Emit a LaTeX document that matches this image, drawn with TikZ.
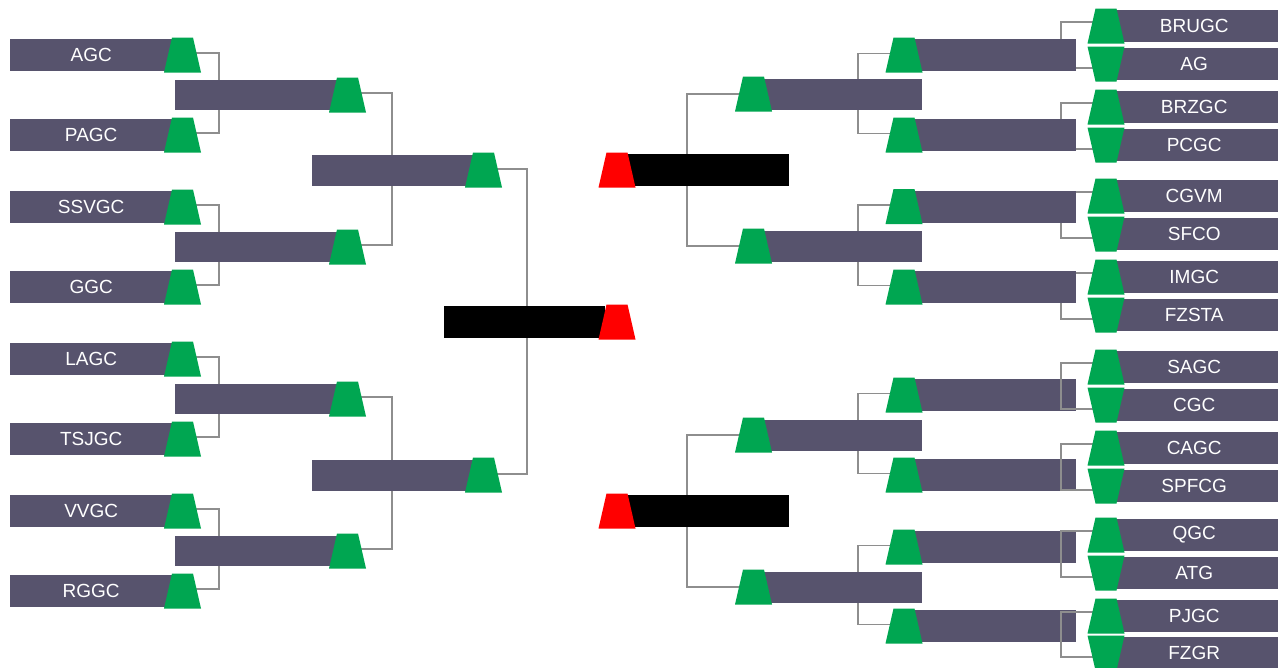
\documentclass[tikz,border=0pt]{standalone}
\usepackage{fontspec}
\setmainfont{Liberation Sans}
\definecolor{barc}{HTML}{57536D}
\definecolor{grn}{HTML}{00A651}
\definecolor{lnc}{HTML}{8E8E8E}
\pgfdeclarelayer{bg}
\pgfdeclarelayer{mid}
\pgfdeclarelayer{fg}
\pgfsetlayers{bg,main,mid,fg}
\begin{document}
\begin{tikzpicture}[x=1pt,y=-1pt,
  bar/.style={rectangle, fill=barc, draw=none, inner sep=0pt, minimum height=32pt, anchor=west, text=white, font=\fontsize{19}{19}\selectfont},
  blk/.style={bar, fill=black},
  trapfill/.store in=\trapcol, trapfill=grn,
  trap/.style={rectangle, draw=none, inner sep=0pt, minimum width=37pt, minimum height=35pt,
    path picture={\fill[\trapcol] (path picture bounding box.south west) -- (path picture bounding box.south east)
      -- ([xshift=-8pt]path picture bounding box.north east) -- ([xshift=8pt]path picture bounding box.north west) -- cycle;}},
  trapdn/.style={rectangle, draw=none, inner sep=0pt, minimum width=37pt, minimum height=35pt,
    path picture={\fill[grn] (path picture bounding box.north west) -- (path picture bounding box.north east)
      -- ([xshift=-8pt]path picture bounding box.south east) -- ([xshift=8pt]path picture bounding box.south west) -- cycle;}},
  redtrap/.style={trapfill=red, trap},
  conn/.style={draw=lnc, line width=1.8pt}]
\clip (0,0) rectangle (1281,667);
\begin{pgfonlayer}{bg}
\fill[white] (0,0) rectangle (1281,667);
\end{pgfonlayer}

% ---------------- LEFT ----------------
\foreach \i/\t/\y in {1/AGC/55,2/PAGC/135,3/SSVGC/207,4/GGC/287,5/LAGC/359,6/TSJGC/439,7/VVGC/511,8/RGGC/591}{
  \node[bar, minimum width=162pt] (lb\i) at (10,\y) {\t};
  \begin{pgfonlayer}{fg}\node[trap] (lt\i) at (182.5,\y) {};\end{pgfonlayer}
}
\foreach \i/\y in {1/95,2/247,3/399,4/551}{
  \node[bar, minimum width=163pt, minimum height=30pt] (lm\i) at (175,\y) {};
  \begin{pgfonlayer}{fg}\node[trap] (lmt\i) at (347.5,\y) {};\end{pgfonlayer}
  \coordinate (jl\i) at (219,\y);
}
\foreach \i/\y in {1/170,2/475}{
  \node[bar, minimum width=163pt, minimum height=31pt] (lq\i) at (312,\y) {};
  \begin{pgfonlayer}{fg}\node[trap] (lqt\i) at (483.5,\y) {};\end{pgfonlayer}
  \coordinate (jlm\i) at (392,\y);
}
\node[blk, minimum width=161pt] (lf) at (444,322) {};
\begin{pgfonlayer}{fg}\node[redtrap] (lft) at (617,322) {};\end{pgfonlayer}
\coordinate (jlf) at (527,322);

\begin{pgfonlayer}{bg}
\foreach \a/\b/\j in {1/2/1,3/4/2,5/6/3,7/8/4}{
  \draw[conn] ([yshift=2pt]lt\a.center) -| (jl\j) |- ([yshift=2pt]lt\b.center);
}
\foreach \a/\b/\j in {1/2/1,3/4/2}{
  \draw[conn] ([yshift=2pt]lmt\a.center) -| (jlm\j) |- ([yshift=2pt]lmt\b.center);
}
\draw[conn] ([yshift=1pt]lqt1.center) -| (jlf) |- ([yshift=1pt]lqt2.center);
\end{pgfonlayer}

% ---------------- RIGHT ----------------
\foreach \i/\y in {1/170,2/511}{
  \node[blk, minimum width=164pt] (rs\i) at (625,\y) {};
  \begin{pgfonlayer}{fg}\node[redtrap] (rst\i) at (617,\y) {};\end{pgfonlayer}
  \coordinate (jrs\i) at (687,\y);
}
\foreach \i/\y in {1/94,2/246,3/435,4/587}{
  \node[bar, minimum width=172pt, minimum height=31pt] (rq\i) at (750,\y) {};
  \begin{pgfonlayer}{fg}\node[trap] (rqt\i) at (753.5,\y) {};\end{pgfonlayer}
  \coordinate (jrq\i) at (858,\y);
}
\foreach \i/\y in {1/55,2/135,3/206.5,4/287,5/395,6/475,7/547,8/626}{
  \node[bar, minimum width=176pt] (rm\i) at (900,\y) {};
  \begin{pgfonlayer}{fg}\node[trap] (rmt\i) at (904,\y) {};\end{pgfonlayer}
  \coordinate (jrm\i) at (1061,\y);
}
\foreach \i/\t/\y in {1/BRUGC/26,3/BRZGC/107,5/CGVM/196,7/IMGC/277,9/SAGC/367,11/CAGC/448,13/QGC/535,15/PJGC/616}{
  \node[bar, minimum width=168pt] (rl\i) at (1110,\y) {\t};
  \begin{pgfonlayer}{fg}\node[trap] (rlt\i) at (1106,\y) {};\end{pgfonlayer}
}
\foreach \i/\t/\y in {2/AG/64,4/PCGC/145,6/SFCO/234,8/FZSTA/315,10/CGC/405,12/SPFCG/486,14/ATG/573,16/FZGR/653}{
  \node[bar, minimum width=168pt] (rl\i) at (1110,\y) {\t};
  \begin{pgfonlayer}{fg}\node[trapdn] (rlt\i) at (1106,\y) {};\end{pgfonlayer}
}

\begin{pgfonlayer}{bg}
\draw[conn] (rqt1.center) -| (jrs1) |- (rqt2.center);
\draw[conn] (rqt3.center) -| (jrs2) |- (rqt4.center);
\foreach \a/\b/\j in {1/2/1,3/4/2,5/6/3,7/8/4}{
  \draw[conn] ([yshift=1.5pt]rmt\a.center) -| (jrq\j) |- ([yshift=1.5pt]rmt\b.center);
}
\foreach \a/\b/\j in {1/2/1,3/4/2,5/6/3,7/8/4}{
  \draw[conn] ([yshift=4pt]rlt\a.center) -| (jrm\j) |- ([yshift=-4pt]rlt\b.center);
}
\end{pgfonlayer}
\begin{pgfonlayer}{mid}
\foreach \a/\b/\j in {9/10/5,11/12/6,13/14/7,15/16/8}{
  \draw[conn] ([yshift=4pt]rlt\a.center) -| (jrm\j) |- ([yshift=-4pt]rlt\b.center);
}
\end{pgfonlayer}
\end{tikzpicture}
\end{document}
